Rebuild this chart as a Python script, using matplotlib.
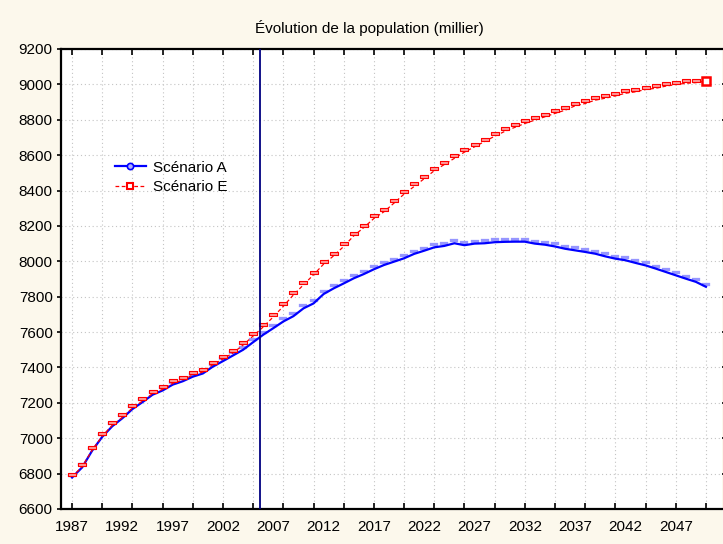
import numpy as np
import matplotlib
matplotlib.use('Agg')
import matplotlib.pyplot as plt
from matplotlib.path import Path
from matplotlib.lines import Line2D

plt.rcParams['font.family'] = ['Liberation Sans', 'DejaVu Sans']

# data (thousands)
years = list(range(1987, 2051))
scen_a = [6778, 6835, 6930, 7008, 7068, 7113, 7165, 7204, 7246, 7270,
          7303, 7322, 7348, 7366, 7405, 7436, 7468, 7500, 7543, 7585,
          7622, 7660, 7690, 7734, 7762, 7815, 7847, 7875, 7904, 7928,
          7955, 7979, 7998, 8017, 8042, 8060, 8079, 8087, 8102, 8091,
          8100, 8102, 8108, 8110, 8111, 8111, 8100, 8094, 8084, 8071,
          8062, 8053, 8043, 8028, 8015, 8006, 7991, 7977, 7959, 7940,
          7921, 7902, 7884, 7856]
scen_e = [6782, 6839, 6933, 7012, 7073, 7118, 7171, 7210, 7252, 7276,
          7310, 7329, 7357, 7374, 7416, 7448, 7482, 7527, 7578, 7629,
          7686, 7746, 7810, 7867, 7924, 7984, 8031, 8084, 8144, 8191,
          8242, 8280, 8329, 8380, 8423, 8467, 8512, 8547, 8582, 8617,
          8647, 8677, 8707, 8734, 8757, 8779, 8798, 8817, 8836, 8854,
          8879, 8892, 8911, 8922, 8935, 8950, 8958, 8971, 8978, 8990,
          8999, 9006, 9010, 9018]
label_years = list(range(1987, 2050, 5))
tick_years = list(range(1987, 2051, 3))
y_ticks = list(range(6600, 9201, 200))
current_year = 2005.65

# flat marker drawn slightly above the point (as in the original export)
flat = Path([(-1, 0.35), (1, 0.35), (1, 0.85), (-1, 0.85), (-1, 0.35)],
            [Path.MOVETO, Path.LINETO, Path.LINETO, Path.LINETO, Path.CLOSEPOLY])

fig = plt.figure(figsize=(7.23, 5.44), dpi=100, facecolor='#fcf8ec')
ax = fig.add_axes([61/723, 35/544, 661/723, 460/544])
ax.set_facecolor('white')

ax.plot(years, scen_a, color='#0000ff', lw=1.6, zorder=3)
ax.plot(years, scen_a, ls='none', marker=flat, ms=6, mfc='#9696ff', mec='#9696ff',
        mew=0.2, zorder=2)
ax.plot(years, scen_e, color='#ff0000', lw=0.9, dashes=(3, 2), zorder=4)
ax.plot(years, scen_e, ls='none', marker=flat, ms=6, mfc='#ff9a9a', mec='#ff0000',
        mew=0.8, zorder=4)
ax.plot(years[-1], scen_e[-1], ls='none', marker='s', ms=6, mfc='white', mec='#ff0000',
        mew=1.8, zorder=5)

ax.axvline(current_year, color='#000080', lw=1.3, zorder=5)

ax.set_xlim(1985.9, 2051.6)
ax.set_ylim(6600, 9200)
ax.xaxis.remove_overlapping_locs = False
ax.set_xticks(tick_years)
ax.set_xticklabels([])
ax.set_xticks(label_years, labels=[str(y) for y in label_years], minor=True)
ax.set_yticks(y_ticks)
ax.grid(True, which='major', color='#c4c4c4', linestyle=(0, (1, 2.5)), lw=0.8)

ax.tick_params(axis='x', which='major', direction='in', length=4, width=1.2,
               top=True, bottom=True)
ax.tick_params(axis='x', which='minor', length=0, pad=8, labelsize=11)
ax.tick_params(axis='y', which='major', direction='out', length=3, width=1.2,
               labelsize=11, pad=3, right=True)
for side in ['left', 'bottom', 'top']:
    ax.spines[side].set_linewidth(1.6)
ax.spines['right'].set_visible(False)

fig.text(369/723, 0.948, 'Évolution de la population (millier)', ha='center',
         va='center', fontsize=11)

handles = [Line2D([], [], color='#0000ff', lw=1.6, marker='o', ms=4.5,
                  mfc='#b0b0ff', mec='#0000ff', mew=1.2),
           Line2D([], [], color='#ff0000', lw=0.9, dashes=(3, 2), marker='s', ms=5,
                  mfc='white', mec='#ff0000', mew=1.5)]
ax.legend(handles, ['Scénario A', 'Scénario E'], loc='upper left',
          bbox_to_anchor=(0.082, 0.757), frameon=False, fontsize=11,
          handlelength=2.0, handletextpad=0.5, labelspacing=0.35,
          borderpad=0, borderaxespad=0)

fig.savefig('out.png', dpi=100, facecolor=fig.get_facecolor())
